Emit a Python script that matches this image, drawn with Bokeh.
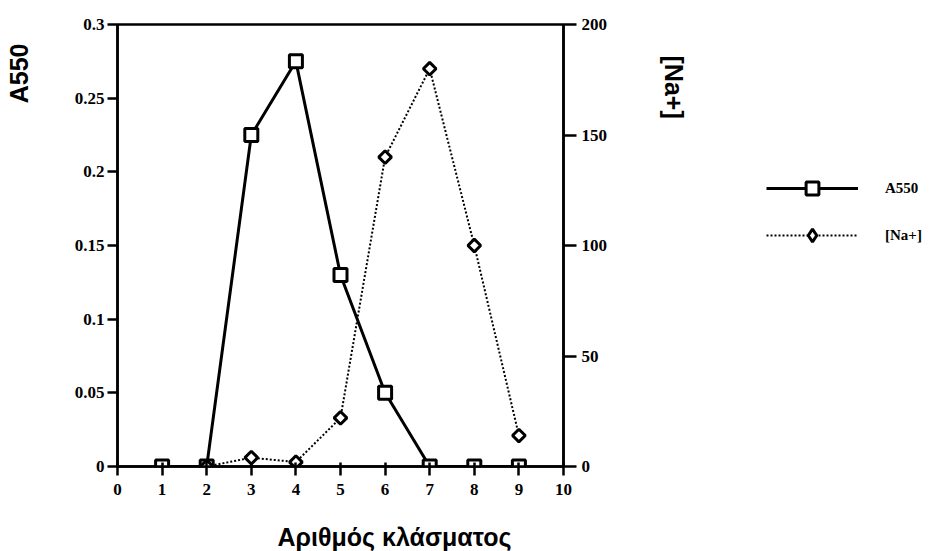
import math
from bokeh.plotting import figure
from bokeh.layouts import row
from bokeh.models import Range1d, LinearAxis, Legend, LegendItem, Title, FixedTicker
from bokeh.embed import file_html
from bokeh.resources import INLINE

# ---- data ----
fractions = [1, 2, 3, 4, 5, 6, 7, 8, 9]
a550 = [0.0, 0.0, 0.225, 0.275, 0.13, 0.05, 0.0, 0.0, 0.0]
na_fractions = [2, 3, 4, 5, 6, 7, 8, 9]
na_values = [0, 4, 2, 22, 140, 180, 100, 14]
x_ticks = [0, 1, 2, 3, 4, 5, 6, 7, 8, 9, 10]
left_ticks = [0, 0.05, 0.1, 0.15, 0.2, 0.25, 0.3]
right_ticks = [0, 50, 100, 150, 200]
series_names = ["A550", "[Na+]"]

TICK_FONT = "Liberation Serif"
TITLE_FONT = "Liberation Sans"
LEFT_W = 60
MAIN_W = 680
TITLE_KW = dict(text_font=TITLE_FONT, text_font_style="bold", text_font_size="25px",
                text_color="black")

# ---- strip on the left carrying the A550 title ----
f0 = figure(width=LEFT_W, height=551, output_backend="svg", toolbar_location=None,
            title=None, x_axis_location=None, y_axis_location=None,
            min_border_left=0, min_border_right=0, min_border_top=0, min_border_bottom=0)
f0.grid.visible = False
f0.outline_line_color = None
f0.add_layout(Title(text="A550", align="right", vertical_align="top", offset=19,
                    standoff=8, **TITLE_KW), "left")

# ---- main chart ----
p = figure(width=MAIN_W, height=551, output_backend="svg", toolbar_location=None,
           x_range=Range1d(0, 10), y_range=Range1d(0, 0.3),
           frame_width=446, frame_height=442,
           min_border_left=117 - LEFT_W, min_border_right=0,
           min_border_top=24, min_border_bottom=0)
p.extra_y_ranges = {"na": Range1d(0, 200)}
p.grid.visible = False
p.background_fill_color = "white"
p.border_fill_color = "white"
p.outline_line_color = "black"
p.outline_line_width = 2.5


def style_axis(ax, tin, tout, standoff):
    ax.minor_tick_line_color = None
    ax.major_tick_in = tin
    ax.major_tick_out = tout
    ax.axis_line_width = 2.5
    ax.axis_line_color = "black"
    ax.major_tick_line_width = 2.5
    ax.major_tick_line_color = "black"
    ax.major_label_text_font = TICK_FONT
    ax.major_label_text_font_style = "bold"
    ax.major_label_text_font_size = "17px"
    ax.major_label_text_color = "black"
    ax.major_label_standoff = standoff


xa = p.xaxis[0]
xa.ticker = FixedTicker(ticks=x_ticks)
style_axis(xa, 4, 9, 8)

ya = p.yaxis[0]
ya.ticker = FixedTicker(ticks=left_ticks)
style_axis(ya, 0, 10, 3)

ra = LinearAxis(y_range_name="na", ticker=FixedTicker(ticks=right_ticks))
style_axis(ra, 0, 13, 5)
p.add_layout(ra, "right")

A_STYLE = dict(line_color="black", line_width=3)
A_MARK = dict(marker="square", fill_color="white", line_color="black", line_width=3)
N_STYLE = dict(line_color="black", line_width=2, line_dash="2 2")
N_MARK = dict(marker="square", angle=math.pi / 4, fill_color="white",
              line_color="black", line_width=3)

# series
p.line(fractions, a550, **A_STYLE)
p.scatter(fractions, a550, size=13, **A_MARK)
p.line(na_fractions, na_values, y_range_name="na", **N_STYLE)
p.scatter(na_fractions, na_values, y_range_name="na", size=9, **N_MARK)

p.add_layout(Title(text="[Na+]", align="left", offset=31, standoff=98, **TITLE_KW), "right")
p.add_layout(Title(text="Αριθμός κλάσματος", align="left", offset=160, standoff=47,
                   **TITLE_KW), "below")

# ---- legend panel (separate figure so it is not clipped) ----
q = figure(width=936 - LEFT_W - MAIN_W, height=551, output_backend="svg",
           toolbar_location=None, title=None,
           x_range=Range1d(1000, 1001), y_range=Range1d(1000, 1001),
           x_axis_location=None, y_axis_location=None,
           min_border_left=0, min_border_right=0, min_border_top=0, min_border_bottom=0)
q.grid.visible = False
q.outline_line_color = None
q.background_fill_color = "white"
q.border_fill_color = "white"

# same series, drawn out of view: only their legend samples show
la = q.line(fractions, a550, **A_STYLE)
sa = q.scatter(fractions, a550, size=13, **A_MARK)
ln = q.line(na_fractions, na_values, **N_STYLE)
sn = q.scatter(na_fractions, na_values, size=9, marker="diamond", fill_color="white",
               line_color="black", line_width=3)

LEG = dict(orientation="vertical", glyph_width=92, label_standoff=27,
           padding=0, margin=0, border_line_color=None, background_fill_alpha=0,
           label_text_font=TICK_FONT, label_text_font_style="bold",
           label_text_font_size="15px", label_text_color="black")
x_leg = 768 - LEFT_W - MAIN_W
leg1 = Legend(items=[LegendItem(label=series_names[0], renderers=[la, sa])],
              location=(x_leg, 239), glyph_height=32, **LEG)
leg2 = Legend(items=[LegendItem(label=series_names[1], renderers=[ln, sn])],
              location=(x_leg, 192), glyph_height=32, **LEG)
q.add_layout(leg1, "center")
q.add_layout(leg2, "center")

layout = row(f0, p, q, spacing=0)
open("out.html", "w").write(file_html(layout, INLINE))
